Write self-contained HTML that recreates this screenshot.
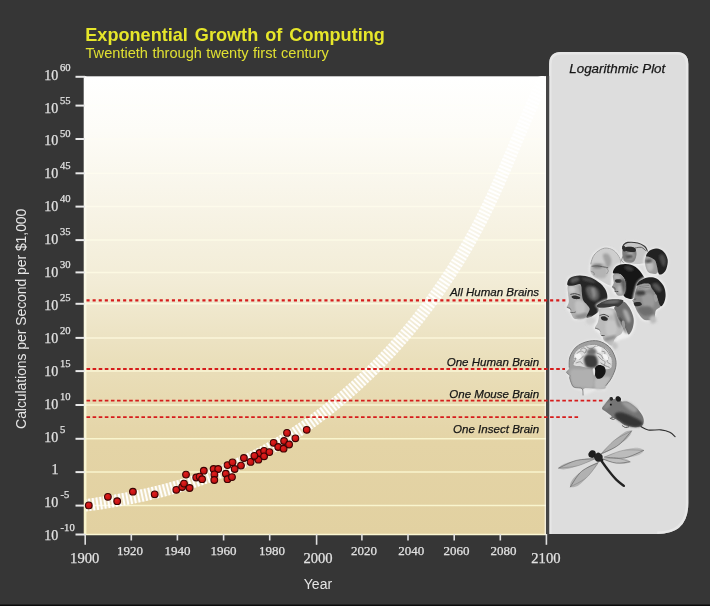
<!DOCTYPE html>
<html><head><meta charset="utf-8"><title>Exponential Growth of Computing</title>
<style>
html,body{margin:0;padding:0;background:#363636;}
body{width:710px;height:606px;overflow:hidden;position:relative;font-family:"Liberation Sans",sans-serif;}
svg{position:absolute;left:0;top:0;display:block;opacity:0.9999;}
text{font-family:"Liberation Serif",serif;font-size:14px;fill:#e2e2e2;stroke:#e2e2e2;stroke-width:0.25px;}
text.sup{font-size:10.6px;}
text.xb{font-size:14.6px;}
text.xs{font-size:13px;}
text.sans{font-family:"Liberation Sans",sans-serif;stroke:none;}
</style></head><body>
<svg width="710" height="606" viewBox="0 0 710 606">
<defs>
<linearGradient id="pg" x1="0" y1="0" x2="0" y2="1">
<stop offset="0" stop-color="#ffffff"/>
<stop offset="0.12" stop-color="#fdfcf7"/>
<stop offset="0.45" stop-color="#f2ecd6"/>
<stop offset="0.62" stop-color="#eadfbb"/>
<stop offset="0.8" stop-color="#e4d4a6"/>
<stop offset="1" stop-color="#e2d1a1"/>
</linearGradient>
<filter id="b1" x="-20%" y="-20%" width="140%" height="140%"><feGaussianBlur stdDeviation="1"/></filter>
<filter id="b2" x="-20%" y="-20%" width="140%" height="140%"><feGaussianBlur stdDeviation="2"/></filter>
<filter id="b03" x="-5%" y="-5%" width="110%" height="110%"><feGaussianBlur stdDeviation="0.35"/></filter>
<filter id="b05" x="-20%" y="-20%" width="140%" height="140%"><feGaussianBlur stdDeviation="0.5"/></filter>
<linearGradient id="ax" x1="0" y1="0" x2="0" y2="1"><stop offset="0" stop-color="#ffffff"/><stop offset="0.5" stop-color="#fbf9e4"/><stop offset="1" stop-color="#f9f5cc"/></linearGradient>
<radialGradient id="dg" cx="0.4" cy="0.35" r="0.7"><stop offset="0" stop-color="#e02020"/><stop offset="1" stop-color="#b80c0c"/></radialGradient>
<clipPath id="pc"><rect x="85" y="76" width="461.5" height="458.5"/></clipPath>
</defs>
<rect x="0" y="0" width="710" height="606" fill="#363636"/>
<rect x="0" y="604.5" width="710" height="1.5" fill="#0c0c0c"/>
<!-- panel -->
<path id="panel" d="M549.2,534 L549.2,64 Q549.2,52 561.2,52 L676.3,52 Q688.3,52 688.3,64 L688.3,503 Q688.3,534 657.3,534 Z" fill="#dddddd"/>
<path d="M550.4,534 L550.4,64 Q550.4,53.2 561.2,53.2 L676.3,53.2 Q687.1,53.2 687.1,64 L687.1,503 Q687.1,532.8 657.3,532.8" fill="none" stroke="#e7e7e7" stroke-width="2.4"/>
<!-- plot -->
<rect x="83.7" y="76.3" width="462.3" height="458.2" fill="url(#pg)"/>
<g stroke-width="1.5" stroke-opacity="0.92" id="grid">
<line x1="85" x2="546" y1="105.6" y2="105.6" stroke="#fefef9"/>
<line x1="85" x2="546" y1="139" y2="139" stroke="#fefdf4"/>
<line x1="85" x2="546" y1="173.3" y2="173.3" stroke="#fefcef"/>
<line x1="85" x2="546" y1="206.6" y2="206.6" stroke="#fdfbeb"/>
<line x1="85" x2="546" y1="240.1" y2="240.1" stroke="#fdfbe7"/>
<line x1="85" x2="546" y1="272.4" y2="272.4" stroke="#fdfae3"/>
<line x1="85" x2="546" y1="303.8" y2="303.8" stroke="#fcfadf"/>
<line x1="85" x2="546" y1="337.9" y2="337.9" stroke="#fcf9dc"/>
<line x1="85" x2="546" y1="371.1" y2="371.1" stroke="#fcf8d8"/>
<line x1="85" x2="546" y1="405" y2="405" stroke="#fbf8d5"/>
<line x1="85" x2="546" y1="438.8" y2="438.8" stroke="#fbf7d1"/>
<line x1="85" x2="546" y1="472.1" y2="472.1" stroke="#fbf7d1"/>
<line x1="85" x2="546" y1="505.6" y2="505.6" stroke="#fbf7d1"/>
</g>
<!-- curve band -->
<g clip-path="url(#pc)" fill="none">
<path d="M85.0,505.4 L91.0,504.6 L97.0,503.7 L103.0,502.8 L109.0,501.8 L115.0,500.8 L121.0,499.7 L127.0,498.6 L133.0,497.4 L139.0,496.2 L145.0,494.9 L151.0,493.5 L157.0,492.1 L163.0,490.6 L169.0,489.0 L175.0,487.3 L181.0,485.6 L187.0,483.8 L193.0,481.8 L199.0,479.8 L205.0,477.7 L211.0,475.5 L217.0,473.3 L223.0,470.9 L229.0,468.4 L235.0,465.7 L241.0,463.0 L247.0,460.2 L253.0,457.2 L259.0,454.2 L265.0,451.0 L271.0,447.7 L277.0,444.2 L283.0,440.7 L289.0,437.0 L295.0,433.1 L301.0,429.1 L307.0,425.0 L313.0,420.7 L319.0,416.3 L325.0,411.8 L331.0,407.0 L337.0,402.2 L343.0,397.1 L349.0,391.9 L355.0,386.6 L361.0,381.0 L367.0,375.3 L373.0,369.5 L379.0,363.4 L385.0,357.1 L391.0,350.7 L397.0,344.0 L403.0,337.1 L409.0,330.0 L415.0,322.6 L421.0,314.9 L427.0,307.0 L433.0,298.8 L439.0,290.3 L445.0,281.5 L451.0,272.4 L457.0,262.9 L463.0,253.0 L469.0,242.6 L475.0,231.7 L481.0,220.3 L487.0,208.2 L493.0,195.5 L499.0,182.2 L505.0,168.4 L511.0,154.2 L517.0,139.9 L523.0,125.7 L529.0,111.7 L535.0,98.1 L541.0,85.2 L547.0,73.1 L548.0,71.1" stroke="#ffffff" stroke-opacity="0.25" stroke-width="12.5"/>
<path d="M85.0,505.4 L91.0,504.6 L97.0,503.7 L103.0,502.8 L109.0,501.8 L115.0,500.8 L121.0,499.7 L127.0,498.6 L133.0,497.4 L139.0,496.2 L145.0,494.9 L151.0,493.5 L157.0,492.1 L163.0,490.6 L169.0,489.0 L175.0,487.3 L181.0,485.6 L187.0,483.8 L193.0,481.8 L199.0,479.8 L205.0,477.7 L211.0,475.5 L217.0,473.3 L223.0,470.9 L229.0,468.4 L235.0,465.7 L241.0,463.0 L247.0,460.2 L253.0,457.2 L259.0,454.2 L265.0,451.0 L271.0,447.7 L277.0,444.2 L283.0,440.7 L289.0,437.0 L295.0,433.1 L301.0,429.1 L307.0,425.0 L313.0,420.7 L319.0,416.3 L325.0,411.8 L331.0,407.0 L337.0,402.2 L343.0,397.1 L349.0,391.9 L355.0,386.6 L361.0,381.0 L367.0,375.3 L373.0,369.5 L379.0,363.4 L385.0,357.1 L391.0,350.7 L397.0,344.0 L403.0,337.1 L409.0,330.0 L415.0,322.6 L421.0,314.9 L427.0,307.0 L433.0,298.8 L439.0,290.3 L445.0,281.5 L451.0,272.4 L457.0,262.9 L463.0,253.0 L469.0,242.6 L475.0,231.7 L481.0,220.3 L487.0,208.2 L493.0,195.5 L499.0,182.2 L505.0,168.4 L511.0,154.2 L517.0,139.9 L523.0,125.7 L529.0,111.7 L535.0,98.1 L541.0,85.2 L547.0,73.1 L548.0,71.1" stroke="#ffffff" stroke-width="12.5" stroke-dasharray="2 1.8" stroke-opacity="0.95"/>
</g>
<!-- axes -->
<rect x="84.1" y="76.3" width="2.3" height="458.7" fill="url(#ax)"/>
<line x1="84" x2="546.5" y1="534.4" y2="534.4" stroke="#fbf8d3" stroke-width="1.5"/>
<line x1="545.3" x2="545.3" y1="76" y2="534.5" stroke="#ffffff" stroke-opacity="0.6" stroke-width="1.4"/>
<line x1="547.6" x2="547.6" y1="76" y2="534.5" stroke="#454545" stroke-width="3.2"/>
<g stroke="#e8e8e8" stroke-width="2" id="yticks">
<line x1="75.5" x2="85" y1="76.8" y2="76.8"/>
<line x1="75.5" x2="85" y1="105.6" y2="105.6"/>
<line x1="75.5" x2="85" y1="139" y2="139"/>
<line x1="75.5" x2="85" y1="173.3" y2="173.3"/>
<line x1="75.5" x2="85" y1="206.6" y2="206.6"/>
<line x1="75.5" x2="85" y1="240.1" y2="240.1"/>
<line x1="75.5" x2="85" y1="272.4" y2="272.4"/>
<line x1="75.5" x2="85" y1="303.8" y2="303.8"/>
<line x1="75.5" x2="85" y1="337.9" y2="337.9"/>
<line x1="75.5" x2="85" y1="371.1" y2="371.1"/>
<line x1="75.5" x2="85" y1="405" y2="405"/>
<line x1="75.5" x2="85" y1="438.8" y2="438.8"/>
<line x1="75.5" x2="85" y1="472.1" y2="472.1"/>
<line x1="75.5" x2="85" y1="505.6" y2="505.6"/>
<line x1="75.5" x2="85" y1="534.5" y2="534.5"/>
</g>
<g stroke="#e0e0e0" stroke-width="1.6" id="xticks">
<line x1="85.2" x2="85.2" y1="534" y2="544.8"/>
<line x1="131.3" x2="131.3" y1="534" y2="540.5"/>
<line x1="177.4" x2="177.4" y1="534" y2="540.5"/>
<line x1="223.6" x2="223.6" y1="534" y2="540.5"/>
<line x1="269.7" x2="269.7" y1="534" y2="540.5"/>
<line x1="316.6" x2="316.6" y1="534" y2="544.8"/>
<line x1="361.9" x2="361.9" y1="534" y2="540.5"/>
<line x1="408.0" x2="408.0" y1="534" y2="540.5"/>
<line x1="454.2" x2="454.2" y1="534" y2="540.5"/>
<line x1="500.3" x2="500.3" y1="534" y2="540.5"/>
<line x1="546.4" x2="546.4" y1="534" y2="544.8"/>
</g>
<!-- red dashed -->
<g stroke="#d61c1c" fill="none">
<line x1="86.5" x2="565.5" y1="300.4" y2="300.4" stroke-width="2.1" stroke-dasharray="3.1 3"/>
<line x1="86.5" x2="565" y1="369" y2="369" stroke-width="1.8" stroke-dasharray="3.6 2.5"/>
<line x1="86.5" x2="603" y1="400.7" y2="400.7" stroke-width="1.8" stroke-dasharray="3.6 2.5"/>
<line x1="86.5" x2="580" y1="417.2" y2="417.2" stroke-width="1.7" stroke-dasharray="3.6 2.5"/>
</g>
<!-- dots -->
<g fill="url(#dg)" stroke="#3c0404" stroke-width="1.1" id="dots">
<circle cx="88.8" cy="505.4" r="3.35"/>
<circle cx="107.9" cy="496.8" r="3.35"/>
<circle cx="117.2" cy="501.2" r="3.35"/>
<circle cx="132.9" cy="491.7" r="3.35"/>
<circle cx="154.7" cy="494.3" r="3.35"/>
<circle cx="176.3" cy="489.8" r="3.35"/>
<circle cx="182.2" cy="487" r="3.35"/>
<circle cx="184" cy="483.6" r="3.35"/>
<circle cx="189.6" cy="488" r="3.35"/>
<circle cx="186" cy="474.6" r="3.35"/>
<circle cx="196.2" cy="477.5" r="3.35"/>
<circle cx="199.6" cy="476.6" r="3.35"/>
<circle cx="202.1" cy="479.2" r="3.35"/>
<circle cx="203.8" cy="470.7" r="3.35"/>
<circle cx="213.6" cy="469" r="3.35"/>
<circle cx="218.2" cy="469" r="3.35"/>
<circle cx="214.4" cy="474.4" r="3.35"/>
<circle cx="214.3" cy="480" r="3.35"/>
<circle cx="225.8" cy="473.7" r="3.35"/>
<circle cx="227.5" cy="479.2" r="3.35"/>
<circle cx="232" cy="477.1" r="3.35"/>
<circle cx="227.5" cy="465.1" r="3.35"/>
<circle cx="232.5" cy="462.3" r="3.35"/>
<circle cx="234.7" cy="469" r="3.35"/>
<circle cx="241" cy="465.6" r="3.35"/>
<circle cx="243.9" cy="458" r="3.35"/>
<circle cx="250.6" cy="461.9" r="3.35"/>
<circle cx="255.3" cy="456.8" r="3.35"/>
<circle cx="258.4" cy="459.7" r="3.35"/>
<circle cx="259.6" cy="453" r="3.35"/>
<circle cx="264.1" cy="450.9" r="3.35"/>
<circle cx="264.1" cy="456.3" r="3.35"/>
<circle cx="269.4" cy="452.1" r="3.35"/>
<circle cx="273.6" cy="442.8" r="3.35"/>
<circle cx="278.2" cy="447" r="3.35"/>
<circle cx="283.6" cy="448.7" r="3.35"/>
<circle cx="284.1" cy="441" r="3.35"/>
<circle cx="287" cy="432.9" r="3.35"/>
<circle cx="289.1" cy="444.5" r="3.35"/>
<circle cx="295.4" cy="438.3" r="3.35"/>
<circle cx="306.7" cy="429.8" r="3.35"/>
<circle cx="254.4" cy="455.8" r="3.35"/>
</g>
<!-- labels -->
<g id="ylabels">
<text x="44.3" y="79.6">10</text><text class="sup" x="60" y="70.7">60</text>
<text x="44.3" y="112.5">10</text><text class="sup" x="60" y="103.6">55</text>
<text x="44.3" y="145.4">10</text><text class="sup" x="60" y="136.5">50</text>
<text x="44.3" y="178.3">10</text><text class="sup" x="60" y="169.4">45</text>
<text x="44.3" y="211.2">10</text><text class="sup" x="60" y="202.3">40</text>
<text x="44.3" y="244.1">10</text><text class="sup" x="60" y="235.2">35</text>
<text x="44.3" y="277.0">10</text><text class="sup" x="60" y="268.1">30</text>
<text x="44.3" y="309.9">10</text><text class="sup" x="60" y="301.0">25</text>
<text x="44.3" y="342.8">10</text><text class="sup" x="60" y="333.9">20</text>
<text x="44.3" y="375.7">10</text><text class="sup" x="60" y="366.8">15</text>
<text x="44.3" y="408.6">10</text><text class="sup" x="60" y="399.7">10</text>
<text x="44.3" y="441.5">10</text><text class="sup" x="60" y="432.6">5</text>
<text x="55" y="474.4" text-anchor="middle">1</text>
<text x="44.3" y="507.3">10</text><text class="sup" x="60.6" y="498.4">-5</text>
<text x="44.3" y="540.2">10</text><text class="sup" x="60.6" y="531.3">-10</text>
</g>
<g id="xlabels">
<text class="xb" x="84.7" y="563" text-anchor="middle">1900</text>
<text class="xs" x="130" y="555.4" text-anchor="middle">1920</text>
<text class="xs" x="177.5" y="555.4" text-anchor="middle">1940</text>
<text class="xs" x="223.6" y="555.4" text-anchor="middle">1960</text>
<text class="xs" x="272.0" y="555.4" text-anchor="middle">1980</text>
<text class="xb" x="318" y="563.2" text-anchor="middle">2000</text>
<text class="xs" x="364.1" y="555.4" text-anchor="middle">2020</text>
<text class="xs" x="411.2" y="555.4" text-anchor="middle">2040</text>
<text class="xs" x="456.5" y="555.4" text-anchor="middle">2060</text>
<text class="xs" x="503.6" y="555.4" text-anchor="middle">2080</text>
<text class="xb" x="545.9" y="563" text-anchor="middle">2100</text>
</g>
<text class="sans" x="85.3" y="40.6" style="word-spacing:2px;font-size:18.1px;font-weight:bold;fill:#e6e62a">Exponential Growth of Computing</text>
<text class="sans" x="85.5" y="57.7" style="font-size:14.6px;word-spacing:0.4px;fill:#e0e032">Twentieth through twenty first century</text>
<text class="sans" x="303.8" y="588.8" style="font-size:14px;fill:#e6e6e6">Year</text>
<text class="sans" transform="translate(25.6,318.8) rotate(-90)" text-anchor="middle" style="font-size:14px;letter-spacing:-0.07px;fill:#e6e6e6">Calculations per Second per $1,000</text>
<text class="sans" x="617.3" y="72.8" text-anchor="middle" style="font-size:13.4px;font-style:italic;fill:#161616;stroke:#161616;stroke-width:0.25px">Logarithmic Plot</text>
<g style="font-size:11px;font-style:italic;fill:#1a1a1a" text-anchor="end">
<text class="sans" style="fill:#151515;font-size:11.55px;stroke:#151515;stroke-width:0.25px" x="539.1" y="295.6">All Human Brains</text>
<text class="sans" style="fill:#151515;font-size:11.55px;stroke:#151515;stroke-width:0.25px" x="539.1" y="365.5">One Human Brain</text>
<text class="sans" style="fill:#151515;font-size:11.55px;stroke:#151515;stroke-width:0.25px" x="539.1" y="397.5">One Mouse Brain</text>
<text class="sans" style="fill:#151515;font-size:11.55px;stroke:#151515;stroke-width:0.25px" x="539.1" y="432.5">One Insect Brain</text>
</g>
<g id="heads" filter="url(#b03)">
<path d="M589.8,264.7C590.1,262.4 590.5,259.9 591.5,257.8C592.5,255.7 593.5,253.6 595.7,251.9C597.9,250.2 601.7,247.7 604.8,247.4C607.9,247.1 611.6,248.1 614.2,249.9C616.9,251.7 619.4,255.8 620.7,258.3C622.0,260.9 622.2,263.0 621.9,265.2C621.6,267.4 620.2,269.3 618.7,271.7C617.2,274.1 613.9,277.1 612.8,279.6C611.6,282.1 613.1,285.7 611.8,286.5C610.5,287.3 607.4,285.7 604.8,284.5C602.1,283.3 598.0,280.5 595.9,279.1C593.8,277.7 593.1,277.3 592.0,276.1C590.9,274.9 589.9,273.6 589.5,271.7C589.1,269.8 589.5,267.0 589.8,264.7Z" fill="#f3f3f3" filter="url(#b1)"/>
<path d="M590.8,264.5C591.1,262.3 591.6,260.2 592.5,258.3C593.4,256.4 594.4,254.5 596.4,252.9C598.4,251.3 601.9,248.8 604.8,248.5C607.6,248.2 611.0,249.2 613.5,250.9C616.0,252.6 618.5,256.5 619.7,258.8C620.9,261.1 621.0,262.8 620.7,264.9C620.4,267.0 619.2,268.9 617.7,271.2C616.2,273.5 613.1,276.4 612.0,278.8C610.9,281.2 612.2,284.6 611.0,285.3C609.8,286.1 607.4,284.5 605.0,283.3C602.6,282.1 598.4,279.4 596.4,278.1C594.4,276.8 593.8,276.5 592.8,275.4C591.8,274.3 590.9,273.3 590.6,271.5C590.3,269.7 590.5,266.7 590.8,264.5Z" fill="#cecece" filter="url(#b05)"/>
<path d="M592.5,263.9C593.6,262.4 595.9,262.7 597.9,262.8C599.9,262.9 603.2,263.4 604.8,264.7C606.4,266.0 607.2,268.5 607.3,270.7C607.4,272.9 607.0,276.4 605.3,277.6C603.6,278.8 598.9,278.5 596.9,278.1C594.9,277.7 594.0,276.2 593.0,275.1C592.0,274.0 591.1,273.4 591.0,271.5C590.9,269.6 591.4,265.3 592.5,263.9Z" fill="#b4b4b4" filter="url(#b1)"/>
<path d="M602.9,254.8C603.4,253.5 606.4,253.0 607.8,253.8C609.2,254.6 610.9,257.8 611.3,259.8C611.7,261.8 611.0,264.4 610.3,265.7C609.5,267.0 607.7,268.3 606.8,267.7C605.9,267.1 605.4,263.9 604.8,261.8C604.1,259.7 602.4,256.1 602.9,254.8Z" fill="#a2a2a2" filter="url(#b1)"/>
<path d="M593.7,264.9C594.8,264.3 599.6,264.0 600.9,264.5C602.2,265.0 602.5,267.1 601.4,267.7C600.3,268.3 595.7,268.4 594.4,267.9C593.1,267.4 592.6,265.5 593.7,264.9Z" fill="#7e7e7e" filter="url(#b1)"/>
<path d="M592.0,266.3C592.8,266.2 595.2,265.8 596.9,265.9C598.6,266.0 600.6,266.4 602.4,266.7C604.2,267.0 606.9,267.5 607.8,267.7" fill="none" stroke="#4e4e4e" stroke-width="0.8" stroke-linecap="round" filter="url(#b05)"/>
<path d="M590.8,263.9C591.1,262.9 591.6,259.9 592.5,258.0C593.4,256.1 594.4,254.2 596.4,252.5C598.4,250.8 601.9,248.4 604.8,248.1C607.7,247.8 611.2,248.8 613.7,250.5C616.2,252.2 618.7,256.0 619.9,258.4C621.1,260.8 620.7,263.6 620.9,264.7" fill="none" stroke="#8e8e8e" stroke-width="0.8" stroke-linecap="round" filter="url(#b05)"/>
<path d="M591.2,271.5C591.7,271.7 593.4,272.1 593.9,272.7C594.4,273.2 594.1,274.4 594.1,274.8" fill="none" stroke="#777" stroke-width="0.7" stroke-linecap="round" filter="url(#b05)"/>
<path d="M606.3,267.7C606.6,268.2 608.2,269.7 608.3,270.7C608.4,271.7 607.0,273.1 606.8,273.6" fill="none" stroke="#888" stroke-width="0.8" stroke-linecap="round" filter="url(#b05)"/>
<path d="M621.2,248.9C621.5,247.0 621.6,245.6 622.7,244.4C623.8,243.2 625.1,241.9 627.6,241.5C630.1,241.1 635.0,241.5 638.0,242.2C641.0,242.9 643.6,244.4 645.4,245.9C647.2,247.4 648.1,249.4 648.6,251.4C649.1,253.4 648.8,255.8 648.4,257.8C648.0,259.9 648.5,262.5 646.4,263.7C644.2,264.9 638.6,265.1 635.5,265.2C632.4,265.3 629.7,265.1 627.6,264.5C625.5,263.9 623.8,263.2 622.7,261.8C621.6,260.4 621.5,257.9 621.2,255.8C621.0,253.7 621.0,250.8 621.2,248.9Z" fill="#efefef" filter="url(#b1)"/>
<path d="M622.2,249.1C622.4,247.3 622.5,246.2 623.4,245.1C624.3,244.0 625.4,242.9 627.8,242.6C630.2,242.3 634.9,242.5 637.7,243.2C640.5,243.9 643.0,245.3 644.6,246.7C646.2,248.1 647.0,249.7 647.4,251.5C647.8,253.3 647.5,255.9 647.2,257.8C646.9,259.7 647.4,261.8 645.4,262.8C643.4,263.9 638.4,264.0 635.5,264.1C632.6,264.2 629.8,264.0 627.8,263.5C625.8,263.0 624.3,262.3 623.4,261.0C622.5,259.7 622.4,257.8 622.2,255.8C622.0,253.8 622.0,250.9 622.2,249.1Z" fill="#c6c6c6" filter="url(#b05)"/>
<path d="M622.9,248.9C623.7,247.4 625.7,247.1 627.6,246.9C629.5,246.7 633.0,246.8 634.5,247.9C636.0,249.1 636.5,251.7 636.5,253.8C636.5,256.0 635.6,259.2 634.5,260.8C633.4,262.4 631.2,263.1 629.6,263.2C628.0,263.3 625.8,262.5 624.6,261.3C623.5,260.1 623.0,257.9 622.7,255.8C622.4,253.7 622.1,250.4 622.9,248.9Z" fill="#7e7e7e" filter="url(#b05)"/>
<path d="M627.6,252.9C628.4,252.0 631.5,251.8 632.6,252.4C633.8,253.1 634.7,255.7 634.5,256.8C634.3,257.9 632.7,259.1 631.6,259.3C630.5,259.5 628.8,258.9 628.1,257.8C627.4,256.7 626.9,253.8 627.6,252.9Z" fill="#a8a8a8" filter="url(#b1)"/>
<path d="M624.8,247.4C625.5,246.7 627.9,246.6 629.6,246.7C631.3,246.8 634.0,247.1 635.0,247.9C636.0,248.7 636.2,250.7 635.5,251.4C634.8,252.1 632.3,252.0 630.6,251.9C628.9,251.8 626.4,251.8 625.4,251.1C624.4,250.3 624.1,248.1 624.8,247.4Z" fill="#2c2c2c" filter="url(#b05)"/>
<path d="M622.2,246.7C622.4,245.8 624.0,245.4 624.6,245.9C625.2,246.4 626.3,249.0 626.1,249.9C625.9,250.8 624.2,251.9 623.6,251.4C623.0,250.9 622.0,247.6 622.2,246.7Z" fill="#2e2e2e" filter="url(#b05)"/>
<path d="M626.1,255.8C626.9,255.4 630.5,255.1 631.6,255.3C632.7,255.6 633.4,256.9 632.6,257.3C631.9,257.7 628.2,258.1 627.1,257.8C626.0,257.6 625.4,256.2 626.1,255.8Z" fill="#3a3a3a" filter="url(#b1)"/>
<path d="M622.5,248.7C622.7,248.1 622.7,245.9 623.6,244.9C624.5,243.9 625.4,242.7 627.8,242.4C630.1,242.1 634.9,242.3 637.7,243.0C640.5,243.7 643.1,245.1 644.8,246.5C646.4,247.9 647.1,250.5 647.6,251.3" fill="none" stroke="#333" stroke-width="1.1" stroke-linecap="round" filter="url(#b05)"/>
<path d="M635.5,247.9C636.5,247.8 639.8,246.9 641.5,247.4C643.2,247.9 645.2,250.3 645.9,250.9" fill="none" stroke="#555" stroke-width="0.9" stroke-linecap="round" filter="url(#b05)"/>
<path d="M622.7,256.8C622.5,257.5 621.5,259.8 621.7,260.8C621.9,261.8 623.7,262.5 624.1,262.8" fill="none" stroke="#666" stroke-width="0.8" stroke-linecap="round" filter="url(#b05)"/>
<path d="M643.9,258.8C644.5,256.2 645.8,252.9 647.8,251.1C649.8,249.3 653.3,247.8 656.0,247.8C658.7,247.8 662.2,249.2 664.2,251.1C666.2,253.0 667.8,256.5 668.3,259.4C668.8,262.3 667.9,265.9 667.1,268.3C666.3,270.7 665.6,272.7 663.7,273.8C661.9,274.9 658.6,275.1 656.0,275.1C653.4,275.1 650.0,275.2 648.1,273.8C646.2,272.4 645.1,269.4 644.4,266.9C643.7,264.4 643.3,261.4 643.9,258.8Z" fill="#efefef" filter="url(#b1)"/>
<path d="M645.2,258.8C645.6,256.6 646.7,254.6 648.1,253.5C649.5,252.4 651.9,251.5 653.4,252.2C654.9,252.8 656.4,255.0 657.3,257.4C658.2,259.8 659.0,264.0 658.9,266.7C658.8,269.4 658.3,272.5 656.7,273.5C655.1,274.5 650.9,273.9 649.1,272.8C647.3,271.7 646.4,269.0 645.7,266.7C645.1,264.4 644.8,261.0 645.2,258.8Z" fill="#9c9c9c" filter="url(#b05)"/>
<path d="M646.5,262.7C647.1,261.2 649.8,260.6 651.0,261.1C652.2,261.7 653.5,264.4 653.6,266.0C653.7,267.6 652.5,270.2 651.5,270.9C650.5,271.6 648.1,271.4 647.3,270.0C646.5,268.6 645.9,264.2 646.5,262.7Z" fill="#bebebe" filter="url(#b1)"/>
<path d="M645.7,260.3C646.5,259.8 650.0,259.3 651.0,259.6C652.0,259.9 652.2,261.4 651.5,261.9C650.8,262.4 647.5,263.0 646.5,262.7C645.5,262.4 645.0,260.8 645.7,260.3Z" fill="#444" filter="url(#b1)"/>
<path d="M646.1,256.1C646.0,255.0 647.6,252.1 649.4,250.8C651.2,249.6 654.3,248.4 656.7,248.6C659.1,248.8 662.1,250.1 663.9,251.9C665.7,253.7 667.1,256.7 667.6,259.4C668.1,262.1 667.3,265.7 666.6,268.0C665.9,270.3 664.6,272.3 663.3,273.3C662.0,274.3 659.9,275.2 658.9,274.1C657.9,273.0 657.8,269.0 657.1,266.7C656.5,264.4 656.2,261.9 655.0,260.3C653.8,258.7 651.6,257.9 650.1,257.2C648.6,256.5 646.2,257.2 646.1,256.1Z" fill="#202020" filter="url(#b05)"/>
<path d="M659.3,256.1C659.6,254.7 662.2,254.0 663.3,254.8C664.4,255.6 665.8,258.7 665.9,260.7C666.0,262.7 665.0,266.2 664.2,266.7C663.4,267.1 662.1,265.2 661.3,263.4C660.5,261.6 659.0,257.5 659.3,256.1Z" fill="#4c4c4c" filter="url(#b1)"/>
<path d="M611.2,286.7C611.0,283.7 611.2,277.5 612.0,273.9C612.8,270.3 613.6,266.9 615.9,265.0C618.2,263.1 622.4,262.7 625.8,262.8C629.2,262.9 633.5,263.9 636.5,265.7C639.5,267.5 642.1,271.5 643.7,273.9C645.3,276.2 646.3,277.7 646.1,279.8C645.9,281.9 644.2,284.4 642.7,286.7C641.2,289.0 638.7,291.5 637.2,293.7C635.7,295.9 635.6,298.7 633.8,299.6C632.0,300.5 628.3,299.6 626.3,299.1C624.3,298.6 623.6,297.2 621.9,296.6C620.2,296.0 617.4,296.4 615.9,295.6C614.4,294.8 613.8,293.2 613.0,291.7C612.2,290.2 611.4,289.7 611.2,286.7Z" fill="#efefef" filter="url(#b1)"/>
<path d="M613.0,273.1C612.5,271.8 614.6,267.6 616.7,266.1C618.8,264.6 622.6,263.9 625.8,264.0C629.0,264.1 632.9,265.1 635.7,266.9C638.5,268.7 641.2,272.7 642.7,274.9C644.2,277.1 645.1,278.2 644.9,280.0C644.7,281.8 643.1,283.8 641.7,285.9C640.3,288.0 637.9,290.8 636.5,292.9C635.1,295.0 634.9,297.8 633.3,298.6C631.7,299.5 628.5,298.7 626.8,298.0C625.1,297.3 623.4,295.9 623.1,294.2C622.8,292.5 624.6,290.1 624.9,287.7C625.2,285.3 625.5,282.1 624.7,279.8C623.9,277.5 621.9,275.2 619.9,274.1C617.9,273.0 613.5,274.4 613.0,273.1Z" fill="#161616" filter="url(#b05)"/>
<path d="M613.2,274.9C614.2,273.4 618.0,273.3 619.9,274.1C621.8,274.9 623.8,277.5 624.7,279.8C625.7,282.1 625.7,285.2 625.6,287.7C625.5,290.2 625.2,293.4 623.9,294.7C622.6,296.0 619.4,295.9 617.9,295.4C616.4,294.9 615.7,292.4 615.1,291.5C614.5,290.6 615.0,290.5 614.5,289.7C614.0,288.9 612.3,288.0 612.2,286.9C612.1,285.8 613.6,284.8 613.8,282.8C614.0,280.8 612.2,276.3 613.2,274.9Z" fill="#9a9a9a" filter="url(#b05)"/>
<path d="M617.9,286.2C618.8,285.4 622.3,284.8 623.4,285.7C624.5,286.6 625.0,290.3 624.4,291.7C623.8,293.1 621.0,294.4 619.9,294.2C618.8,294.0 618.0,292.0 617.7,290.7C617.4,289.4 617.0,287.0 617.9,286.2Z" fill="#bababa" filter="url(#b1)"/>
<path d="M614.0,275.8C614.7,275.1 618.2,274.8 619.4,275.3C620.5,275.8 621.6,278.1 620.9,278.8C620.2,279.5 616.1,279.8 615.0,279.3C613.9,278.8 613.3,276.5 614.0,275.8Z" fill="#b2b2b2" filter="url(#b1)"/>
<path d="M615.4,279.8C616.2,279.3 619.9,279.2 620.9,279.6C621.9,280.0 622.2,281.8 621.4,282.3C620.6,282.8 617.1,283.0 616.1,282.6C615.1,282.2 614.6,280.3 615.4,279.8Z" fill="#333" filter="url(#b05)"/>
<path d="M620.9,279.8C621.3,278.2 624.1,279.0 624.9,280.3C625.7,281.6 625.8,285.4 625.6,287.7C625.4,290.0 624.4,293.9 623.9,294.2C623.4,294.5 622.9,292.1 622.4,289.7C621.9,287.3 620.5,281.4 620.9,279.8Z" fill="#5e5e5e" filter="url(#b1)"/>
<path d="M612.4,286.9C612.8,287.1 614.4,287.3 614.8,287.9C615.2,288.4 615.0,289.8 615.0,290.2" fill="none" stroke="#555" stroke-width="0.8" stroke-linecap="round" filter="url(#b05)"/>
<path d="M615.0,291.3C615.5,291.3 617.4,291.5 617.9,291.5" fill="none" stroke="#444" stroke-width="0.9" stroke-linecap="round" filter="url(#b05)"/>
<path d="M623.9,266.9C624.1,266.1 628.1,265.4 629.8,265.9C631.4,266.4 634.0,269.1 633.8,269.9C633.6,270.7 630.4,271.4 628.8,270.9C627.1,270.4 623.7,267.7 623.9,266.9Z" fill="#3a3a3a" filter="url(#b1)"/>
<path d="M632.3,302.6C632.5,299.8 633.8,293.2 634.8,289.7C635.8,286.1 636.2,283.6 638.2,281.3C640.2,279.0 644.0,276.7 647.1,276.0C650.2,275.3 654.1,275.5 657.0,277.0C659.9,278.5 663.1,282.2 664.7,285.2C666.4,288.1 666.8,291.6 666.9,294.7C667.0,297.8 666.1,301.4 665.2,303.6C664.3,305.8 663.0,306.7 661.5,308.0C660.0,309.3 657.6,309.4 656.5,311.5C655.4,313.6 656.9,318.9 654.6,320.4C652.3,321.9 645.7,321.5 642.7,320.4C639.7,319.2 638.3,315.8 636.7,313.5C635.1,311.2 634.0,308.3 633.3,306.5C632.6,304.7 632.0,305.4 632.3,302.6Z" fill="#efefef" filter="url(#b1)"/>
<path d="M633.6,302.1C633.8,299.5 635.0,293.1 635.9,290.2C636.8,287.3 636.9,285.9 639.2,284.8C641.5,283.7 647.0,282.5 649.6,283.8C652.2,285.1 653.3,290.1 654.6,292.7C655.9,295.3 656.5,297.3 657.5,299.6C658.5,301.9 660.8,304.5 660.5,306.3C660.2,308.1 656.9,308.5 655.7,310.7C654.6,312.9 655.6,317.9 653.6,319.4C651.6,320.8 646.3,320.5 643.7,319.4C641.1,318.2 639.4,314.7 637.9,312.5C636.4,310.3 635.5,307.7 634.8,306.0C634.1,304.3 633.4,304.7 633.6,302.1Z" fill="#898989" filter="url(#b05)"/>
<path d="M639.2,285.2C640.7,284.2 646.8,283.7 648.6,284.3C650.4,284.9 651.6,287.7 650.1,288.7C648.6,289.7 641.5,290.8 639.7,290.2C637.9,289.6 637.7,286.2 639.2,285.2Z" fill="#a6a6a6" filter="url(#b1)"/>
<path d="M642.7,294.7C644.3,293.4 649.6,292.5 651.6,293.7C653.6,294.9 654.6,299.1 654.6,301.6C654.6,304.1 653.2,307.5 651.6,308.5C650.0,309.5 646.3,308.6 644.7,307.5C643.1,306.4 642.5,303.7 642.2,301.6C641.9,299.5 641.1,296.0 642.7,294.7Z" fill="#9c9c9c" filter="url(#b1)"/>
<path d="M636.5,291.5C637.6,290.8 642.3,290.4 643.7,290.9C645.1,291.4 645.8,293.8 644.7,294.5C643.6,295.2 638.6,295.4 637.2,294.9C635.8,294.4 635.4,292.2 636.5,291.5Z" fill="#3c3c3c" filter="url(#b1)"/>
<path d="M634.3,302.4C635.2,301.9 638.5,301.7 639.7,302.1C640.9,302.5 642.3,304.3 641.7,305.0C641.1,305.7 637.4,306.3 636.2,306.3C635.0,306.3 634.6,305.6 634.3,305.0C634.0,304.4 633.4,302.9 634.3,302.4Z" fill="#2a2a2a" filter="url(#b05)"/>
<path d="M637.7,308.5C638.7,307.0 647.0,305.7 649.6,306.5C652.2,307.3 654.6,312.0 653.6,313.5C652.6,315.0 646.4,316.2 643.7,315.4C641.1,314.6 636.7,310.0 637.7,308.5Z" fill="#6e6e6e" filter="url(#b1)"/>
<path d="M639.7,286.5C641.2,286.3 647.1,285.7 648.6,285.5" fill="none" stroke="#6a6a6a" stroke-width="0.6" stroke-linecap="round" filter="url(#b05)"/>
<path d="M639.5,288.2C641.1,288.1 647.5,287.4 649.1,287.3" fill="none" stroke="#6a6a6a" stroke-width="0.6" stroke-linecap="round" filter="url(#b05)"/>
<path d="M633.8,302.1C633.7,301.8 632.6,300.6 633.0,300.1C633.4,299.6 635.4,299.3 635.9,299.1" fill="none" stroke="#555" stroke-width="0.8" stroke-linecap="round" filter="url(#b05)"/>
<path d="M636.7,285.7C636.2,285.2 637.9,282.4 639.7,281.0C641.5,279.6 644.8,277.8 647.6,277.4C650.4,277.0 653.9,277.0 656.5,278.4C659.1,279.8 662.0,283.0 663.5,285.7C665.0,288.4 665.5,291.9 665.6,294.7C665.7,297.5 664.9,300.7 664.1,302.6C663.3,304.5 661.8,306.8 660.7,306.3C659.6,305.8 658.7,301.9 657.7,299.6C656.7,297.3 655.8,294.6 654.8,292.7C653.8,290.8 652.5,289.3 651.6,287.9C650.7,286.4 651.1,284.7 649.6,284.0C648.1,283.3 644.9,283.5 642.7,283.8C640.6,284.1 637.2,286.2 636.7,285.7Z" fill="#222222" filter="url(#b05)"/>
<path d="M652.1,284.3C652.6,283.5 655.9,282.9 657.5,283.8C659.1,284.7 661.3,288.4 661.5,289.7C661.7,291.0 659.6,291.9 658.5,291.7C657.4,291.5 655.7,289.9 654.6,288.7C653.5,287.5 651.6,285.1 652.1,284.3Z" fill="#555" filter="url(#b1)"/>
<path d="M653.6,295.6C653.9,294.5 655.9,294.3 656.5,295.1C657.1,295.9 657.8,299.5 657.5,300.6C657.2,301.7 655.6,302.4 655.0,301.6C654.4,300.8 653.4,296.7 653.6,295.6Z" fill="#a0a0a0" filter="url(#b05)"/>
<path d="M649.6,318.4C650.1,317.1 653.5,314.9 654.6,315.4C655.8,315.9 657.0,320.1 656.5,321.4C656.0,322.7 652.8,323.9 651.6,323.4C650.5,322.9 649.1,319.7 649.6,318.4Z" fill="#bdbdbd" filter="url(#b1)"/>
<path d="M566.3,283.6C566.6,281.3 566.6,278.5 568.8,277.0C571.0,275.5 575.8,274.6 579.5,274.5C583.2,274.4 587.5,275.1 591.1,276.5C594.8,277.9 598.7,280.3 601.4,282.7C604.1,285.1 605.9,287.9 607.1,290.6C608.3,293.3 608.7,296.5 608.4,298.8C608.1,301.1 606.9,303.0 605.5,304.6C604.1,306.2 601.1,307.0 600.1,308.3C599.1,309.6 600.8,310.8 599.3,312.4C597.8,314.0 593.4,317.0 591.1,318.2C588.8,319.4 588.2,319.1 585.3,319.4C582.4,319.7 576.2,320.9 573.7,319.9C571.2,318.9 571.3,315.4 570.0,313.3C568.7,311.2 566.4,309.9 565.9,307.5C565.4,305.1 567.0,301.9 567.1,299.2C567.2,296.4 566.8,293.6 566.7,291.0C566.6,288.4 565.9,285.9 566.3,283.6Z" fill="#ececec" filter="url(#b1)"/>
<path d="M568.0,285.6C569.0,284.2 572.0,285.4 574.1,285.2C576.2,285.0 579.2,283.2 580.5,284.4C581.8,285.6 581.4,290.0 581.8,292.6C582.2,295.2 582.1,298.0 583.0,300.1C583.9,302.2 586.0,303.5 587.1,305.0C588.2,306.5 589.7,307.3 589.6,309.3C589.5,311.3 588.0,315.6 586.3,317.2C584.6,318.8 581.5,318.4 579.5,318.6C577.5,318.8 575.6,319.6 574.1,318.6C572.6,317.6 571.4,313.9 570.8,312.4C570.2,310.9 570.9,310.4 570.3,309.5C569.7,308.6 567.2,308.6 567.0,307.3C566.8,306.0 568.6,304.0 568.8,301.7C569.0,299.4 568.2,296.2 568.1,293.5C568.0,290.8 567.0,287.0 568.0,285.6Z" fill="#b0b0b0" filter="url(#b05)"/>
<path d="M568.8,286.9C569.6,286.0 572.6,285.7 573.7,286.4C574.8,287.1 575.8,289.8 575.4,291.0C575.0,292.2 572.4,293.4 571.3,293.5C570.2,293.6 569.3,292.9 568.9,291.8C568.5,290.7 568.0,287.8 568.8,286.9Z" fill="#cbcbcb" filter="url(#b1)"/>
<path d="M575.4,301.7C576.5,300.3 580.4,300.1 582.0,300.9C583.6,301.7 585.0,304.6 585.3,306.7C585.6,308.8 584.8,311.9 583.6,313.3C582.4,314.7 579.3,315.6 577.9,314.9C576.5,314.2 575.8,311.3 575.4,309.1C575.0,306.9 574.3,303.1 575.4,301.7Z" fill="#c2c2c2" filter="url(#b1)"/>
<path d="M578.7,286.0C578.8,284.8 580.1,284.4 580.7,285.6C581.3,286.9 581.7,291.1 582.1,293.5C582.5,295.9 583.3,299.2 583.2,300.1C583.1,301.1 582.2,300.4 581.6,299.2C581.0,297.9 580.4,294.8 579.9,292.6C579.4,290.4 578.6,287.2 578.7,286.0Z" fill="#8a8a8a" filter="url(#b1)"/>
<path d="M575.4,315.7C576.5,314.8 584.0,313.1 586.1,313.3C588.2,313.5 588.9,315.7 587.8,316.6C586.7,317.5 581.6,319.0 579.5,318.9C577.4,318.8 574.3,316.6 575.4,315.7Z" fill="#8c8c8c" filter="url(#b1)"/>
<path d="M571.9,296.1C572.4,295.7 574.1,295.3 575.4,295.5C576.7,295.7 579.2,296.6 579.9,297.2C580.6,297.8 580.2,298.5 579.5,298.8C578.8,299.1 576.6,299.2 575.4,299.1C574.2,299.0 572.8,298.5 572.2,298.0C571.6,297.5 571.4,296.5 571.9,296.1Z" fill="#2e2e2e" filter="url(#b05)"/>
<path d="M570.8,294.4C571.4,294.3 573.1,293.5 574.6,293.6C576.1,293.7 579.0,294.9 579.9,295.1" fill="none" stroke="#3a3a3a" stroke-width="0.9" stroke-linecap="round" filter="url(#b05)"/>
<path d="M567.1,307.3C567.6,307.5 569.4,307.8 570.0,308.3C570.6,308.8 570.7,309.8 570.8,310.1" fill="none" stroke="#666" stroke-width="0.8" stroke-linecap="round" filter="url(#b05)"/>
<path d="M570.6,312.3C571.1,312.4 572.9,312.7 573.7,312.6C574.5,312.6 575.1,312.1 575.4,312.0" fill="none" stroke="#555" stroke-width="0.8" stroke-linecap="round" filter="url(#b05)"/>
<path d="M567.3,283.1C567.6,281.8 568.0,279.2 570.0,277.9C572.0,276.6 576.1,275.6 579.5,275.5C582.9,275.4 587.1,276.1 590.6,277.5C594.1,278.9 597.9,281.4 600.5,283.6C603.1,285.9 605.0,288.5 606.1,291.0C607.2,293.5 607.6,296.5 607.3,298.6C607.0,300.7 605.8,302.4 604.5,303.8C603.2,305.2 600.5,305.8 599.5,307.1C598.5,308.4 600.1,309.8 598.6,311.4C597.1,313.0 592.6,316.0 590.6,317.0C588.6,318.0 586.7,318.5 586.5,317.2C586.3,315.9 589.5,311.3 589.6,309.3C589.7,307.3 588.2,306.5 587.1,305.0C586.0,303.5 583.9,302.2 583.0,300.1C582.1,298.0 582.2,295.2 581.8,292.6C581.4,290.0 581.8,285.6 580.5,284.4C579.2,283.2 576.2,285.2 574.1,285.4C572.0,285.6 569.2,286.0 568.1,285.6C567.0,285.2 567.0,284.4 567.3,283.1Z" fill="#262626" filter="url(#b05)"/>
<path d="M586.1,287.7C586.8,286.4 589.2,285.7 591.1,286.0C593.0,286.3 596.3,287.5 597.7,289.3C599.1,291.1 599.6,294.9 599.3,296.8C599.0,298.7 597.5,300.5 596.0,300.9C594.5,301.3 591.7,300.4 590.2,299.2C588.7,298.0 587.6,295.4 586.9,293.5C586.2,291.6 585.4,288.9 586.1,287.7Z" fill="#5e5e5e" filter="url(#b1)"/>
<path d="M591.1,288.5C591.5,287.6 593.6,287.0 594.4,288.1C595.2,289.2 596.1,293.4 596.0,295.1C595.9,296.8 594.2,298.7 593.5,298.4C592.8,298.1 592.3,295.1 591.9,293.5C591.5,291.9 590.7,289.4 591.1,288.5Z" fill="#8a8a8a" filter="url(#b1)"/>
<path d="M570.8,279.0C571.6,278.1 574.8,277.0 576.2,277.1C577.7,277.2 579.6,278.5 579.5,279.4C579.4,280.3 576.8,281.8 575.4,282.3C574.0,282.9 572.1,283.2 571.3,282.7C570.5,282.1 570.0,279.9 570.8,279.0Z" fill="#5a5a5a" filter="url(#b1)"/>
<path d="M582.0,277.8C583.1,277.5 587.9,277.8 590.2,278.6C592.5,279.4 596.0,282.1 596.0,282.7C596.0,283.2 592.3,282.3 590.2,281.9C588.1,281.5 585.0,281.0 583.6,280.3C582.2,279.6 580.9,278.1 582.0,277.8Z" fill="#4a4a4a" filter="url(#b1)"/>
<path d="M586.9,317.8C587.9,316.9 590.4,316.4 591.9,317.0C593.4,317.6 596.3,320.2 596.0,321.5C595.7,322.8 591.9,324.7 590.2,324.8C588.6,324.9 586.7,323.5 586.1,322.3C585.5,321.1 585.9,318.7 586.9,317.8Z" fill="#d0d0d0" filter="url(#b1)"/>
<path d="M593.7,328.0C593.2,325.5 596.2,323.0 597.0,319.8C597.8,316.6 598.5,311.5 598.3,309.0C598.1,306.5 594.6,306.5 595.8,304.9C597.0,303.3 602.3,300.6 605.7,299.5C609.1,298.4 613.4,298.3 616.4,298.3C619.4,298.3 621.4,298.1 623.8,299.5C626.2,300.9 628.9,303.5 630.8,306.6C632.7,309.7 634.6,314.5 635.2,318.1C635.8,321.7 635.3,325.4 634.4,328.4C633.5,331.4 631.4,334.7 630.0,336.3C628.6,337.9 628.4,337.1 626.3,337.9C624.2,338.7 619.1,339.5 617.2,341.2C615.3,342.9 616.0,346.7 614.8,347.8C613.6,348.9 611.7,348.9 609.8,347.8C607.9,346.7 604.9,343.4 603.2,341.2C601.6,339.0 601.5,336.8 599.9,334.6C598.3,332.4 594.2,330.5 593.7,328.0Z" fill="#efefef" filter="url(#b1)"/>
<path d="M614.8,306.6C616.1,304.8 620.6,301.2 623.0,301.4C625.4,301.5 627.6,304.7 629.4,307.5C631.2,310.3 633.0,314.9 633.6,318.3C634.2,321.7 633.5,325.3 632.7,328.0C631.9,330.7 629.9,334.1 628.8,334.4C627.7,334.7 627.1,331.5 626.1,329.7C625.1,327.9 624.3,325.3 623.0,323.5C621.7,321.7 619.8,320.8 618.5,318.9C617.2,317.0 615.8,314.4 615.2,312.3C614.6,310.2 613.5,308.4 614.8,306.6Z" fill="#6e6e6e" filter="url(#b05)"/>
<path d="M623.0,309.9C623.3,308.7 625.9,309.2 627.1,310.7C628.3,312.2 630.1,316.8 630.4,318.9C630.7,321.0 629.6,323.2 628.8,323.1C628.0,323.0 626.5,320.3 625.5,318.1C624.5,315.9 622.7,311.1 623.0,309.9Z" fill="#a8a8a8" filter="url(#b1)"/>
<path d="M618.1,317.3C618.2,316.4 620.6,317.7 621.8,319.8C623.0,321.9 624.5,327.4 625.5,329.7C626.5,332.0 627.6,333.5 627.5,333.8C627.4,334.1 625.7,332.7 624.7,331.3C623.7,329.9 622.5,327.8 621.4,325.5C620.3,323.2 618.0,318.2 618.1,317.3Z" fill="#3e3e3e" filter="url(#b1)"/>
<path d="M599.7,308.6C600.9,307.4 604.0,308.1 606.5,308.2C609.0,308.3 613.0,308.0 614.8,309.4C616.6,310.8 616.5,314.4 617.2,316.5C617.9,318.6 617.9,320.3 618.9,322.2C619.9,324.1 622.6,326.1 623.0,328.0C623.4,329.9 622.7,332.2 621.4,333.8C620.1,335.4 616.7,336.1 615.2,337.9C613.8,339.7 613.5,343.3 612.7,344.5C611.9,345.7 611.7,346.0 610.2,345.3C608.8,344.6 605.3,341.7 604.0,340.2C602.7,338.7 603.1,337.4 602.4,336.3C601.7,335.2 600.2,334.8 599.9,333.8C599.6,332.8 601.4,331.4 600.6,330.5C599.8,329.6 595.6,329.6 595.1,328.2C594.6,326.8 597.1,324.3 597.8,322.2C598.5,320.1 598.8,317.9 599.1,315.6C599.4,313.3 598.5,309.8 599.7,308.6Z" fill="#bababa" filter="url(#b05)"/>
<path d="M600.3,309.4C602.0,308.5 608.5,308.4 610.6,309.2C612.7,310.0 614.1,312.9 613.1,314.0C612.1,315.1 607.0,315.5 604.9,315.6C602.8,315.7 601.1,315.8 600.3,314.8C599.5,313.8 598.6,310.3 600.3,309.4Z" fill="#cecece" filter="url(#b1)"/>
<path d="M606.5,321.4C607.9,319.9 612.1,319.5 613.9,320.6C615.7,321.7 617.1,325.7 617.2,328.0C617.4,330.3 616.3,333.2 614.8,334.6C613.3,336.0 609.7,337.1 608.2,336.3C606.7,335.5 606.0,332.2 605.7,329.7C605.4,327.2 605.1,322.9 606.5,321.4Z" fill="#c6c6c6" filter="url(#b1)"/>
<path d="M614.8,311.5C615.1,310.9 616.9,314.6 617.6,316.5C618.4,318.4 618.8,320.8 619.3,322.6C619.8,324.4 621.1,326.6 620.9,327.2C620.7,327.8 618.9,327.6 618.1,326.4C617.3,325.2 616.5,322.3 616.0,319.8C615.5,317.3 614.5,312.1 614.8,311.5Z" fill="#858585" filter="url(#b1)"/>
<path d="M604.9,337.9C606.3,336.9 613.1,335.4 614.8,335.4C616.5,335.4 616.6,337.1 615.2,338.1C613.8,339.1 608.2,341.2 606.5,341.2C604.8,341.2 603.5,338.9 604.9,337.9Z" fill="#909090" filter="url(#b1)"/>
<path d="M601.1,316.9C601.6,316.4 603.3,316.0 604.4,316.3C605.5,316.6 607.3,317.8 607.7,318.5C608.1,319.2 607.6,320.2 606.9,320.6C606.1,321.0 604.1,320.8 603.2,320.6C602.3,320.4 601.8,319.9 601.4,319.3C601.0,318.7 600.6,317.4 601.1,316.9Z" fill="#2c2c2c" filter="url(#b05)"/>
<path d="M599.9,315.5C600.6,315.3 602.5,314.2 604.0,314.4C605.5,314.6 607.8,316.1 608.6,316.5" fill="none" stroke="#3a3a3a" stroke-width="0.9" stroke-linecap="round" filter="url(#b05)"/>
<path d="M595.4,328.2C596.0,328.4 597.9,328.7 598.7,329.2C599.5,329.7 600.0,330.9 600.3,331.3" fill="none" stroke="#666" stroke-width="0.8" stroke-linecap="round" filter="url(#b05)"/>
<path d="M601.6,335.4C602.1,335.5 603.9,335.7 604.4,335.8" fill="none" stroke="#444" stroke-width="0.9" stroke-linecap="round" filter="url(#b05)"/>
<path d="M621.8,321.4C622.0,320.3 623.7,320.2 624.2,321.0C624.8,321.8 625.3,325.3 625.1,326.4C624.9,327.5 623.5,328.4 623.0,327.6C622.5,326.8 621.6,322.5 621.8,321.4Z" fill="#9a9a9a" filter="url(#b05)"/>
<path d="M597.0,305.1C598.2,303.9 602.5,301.4 605.7,300.4C608.9,299.4 613.5,299.2 616.4,299.3C619.3,299.4 623.0,299.6 623.4,300.8C623.8,302.0 619.9,305.8 618.5,306.6C617.1,307.5 616.8,305.8 614.8,305.9C612.8,306.0 609.2,307.2 606.5,307.5C603.8,307.8 599.9,307.9 598.3,307.5C596.7,307.1 595.8,306.3 597.0,305.1Z" fill="#3a3a3a" filter="url(#b05)"/>
<path d="M602.4,302.8C602.8,302.4 607.7,301.0 610.6,300.6C613.5,300.2 618.7,300.0 619.7,300.4C620.7,300.8 618.3,302.3 616.4,302.8C614.5,303.3 610.5,303.3 608.2,303.3C605.9,303.3 602.0,303.2 602.4,302.8Z" fill="#7a7a7a" filter="url(#b1)"/>
<path d="M610.6,344.5C610.6,343.1 613.5,340.9 614.8,341.2C616.0,341.5 618.1,344.8 618.1,346.2C618.1,347.6 616.0,349.8 614.8,349.5C613.5,349.2 610.6,345.9 610.6,344.5Z" fill="#c4c4c4" filter="url(#b1)"/>
</g>
<!--R0-->
<g id="brain">
<path d="M566.4,372.0C566.4,370.2 567.9,369.8 568.4,367.2C568.9,364.6 567.9,360.0 569.1,356.5C570.3,353.0 572.7,348.9 575.6,346.3C578.5,343.7 582.9,341.6 586.8,340.6C590.7,339.6 594.9,339.2 598.8,340.1C602.7,341.0 607.1,343.3 610.0,346.2C612.9,349.1 614.9,353.8 616.0,357.3C617.1,360.8 617.2,363.7 616.6,367.2C616.0,370.7 613.9,375.1 612.3,378.3C610.7,381.5 608.0,384.0 606.8,386.1C605.6,388.2 606.9,390.0 605.0,390.8C603.1,391.6 598.8,390.1 595.4,390.8C592.0,391.5 587.0,395.1 584.7,395.1C582.4,395.1 583.4,392.0 581.5,390.8C579.6,389.6 575.2,389.4 573.4,388.1C571.6,386.9 571.5,385.0 570.7,383.3C569.9,381.6 569.3,379.8 568.6,377.9C567.9,376.0 566.4,373.8 566.4,372.0Z" fill="#e9e9e9" filter="url(#b1)"/>
<path d="M567.5,370.9C567.9,370.0 568.8,369.5 569.2,367.2C569.6,364.9 568.8,360.4 569.9,357.0C571.0,353.6 573.3,349.7 576.1,347.1C578.9,344.6 583.0,342.7 586.8,341.7C590.5,340.7 594.9,340.2 598.6,341.1C602.4,342.0 606.5,344.3 609.3,347.0C612.0,349.7 614.0,354.1 615.1,357.5C616.2,360.9 616.3,363.8 615.7,367.2C615.1,370.6 613.1,374.9 611.5,377.9C609.9,380.9 607.3,383.6 606.1,385.4C604.9,387.2 606.4,388.1 604.5,388.6C602.6,389.1 598.3,388.6 594.9,388.6C591.5,388.6 586.1,387.5 584.1,388.6C582.1,389.7 583.5,395.1 583.1,395.1C582.8,395.1 583.5,389.9 582.0,388.6C580.5,387.3 575.6,388.1 573.9,387.3C572.2,386.5 572.3,385.4 571.6,383.8C570.9,382.2 569.9,379.2 569.7,377.9C569.5,376.6 570.7,376.6 570.2,375.8C569.7,375.0 567.2,373.6 566.7,372.8C566.2,372.0 567.1,371.8 567.5,370.9Z" fill="#a0a0a0" filter="url(#b05)"/>
<path d="M595.4,377.9C597.0,376.0 602.5,376.8 605.0,376.8C607.5,376.8 610.2,376.5 610.4,377.9C610.6,379.3 607.1,383.4 606.1,385.2C605.1,386.9 606.4,387.9 604.6,388.4C602.8,388.9 596.7,390.1 595.2,388.4C593.7,386.6 593.8,379.8 595.4,377.9Z" fill="#bcbcbc" filter="url(#b1)"/>
<path d="M572.9,361.8C572.8,359.9 572.7,356.5 573.7,354.3C574.7,352.1 576.6,350.0 578.8,348.4C581.0,346.8 583.7,345.6 586.8,344.9C589.9,344.2 594.1,343.7 597.5,344.4C600.9,345.1 604.8,346.6 607.2,348.9C609.6,351.2 611.2,355.2 612.1,358.1C613.0,361.0 613.1,364.2 612.3,366.1C611.5,368.0 609.1,369.1 607.2,369.3C605.3,369.5 602.8,367.4 600.8,367.2C598.8,367.0 597.7,368.2 595.4,368.3C593.1,368.4 589.5,368.1 586.8,367.7C584.1,367.3 581.3,366.5 579.3,366.1C577.2,365.8 575.6,366.3 574.5,365.6C573.4,364.9 573.0,363.7 572.9,361.8Z" fill="#dcdcdc" filter="url(#b05)"/>
<path d="M574.5,358.6C575.1,358.2 577.8,357.4 578.2,356.5C578.7,355.6 576.7,354.1 577.2,353.2C577.8,352.3 580.2,351.1 581.5,351.1C582.8,351.1 584.2,352.9 584.7,353.2" fill="none" stroke="#8a8a8a" stroke-width="0.8" stroke-linecap="round" filter="url(#b05)"/>
<path d="M576.1,362.9C576.8,362.7 579.3,361.6 580.4,361.8C581.5,362.0 582.1,363.6 582.5,364.0" fill="none" stroke="#8a8a8a" stroke-width="0.8" stroke-linecap="round" filter="url(#b05)"/>
<path d="M586.8,346.8C587.5,347.1 589.7,349.0 591.1,348.9C592.5,348.8 594.0,346.4 595.4,346.3C596.8,346.2 599.0,348.0 599.7,348.4" fill="none" stroke="#8a8a8a" stroke-width="0.8" stroke-linecap="round" filter="url(#b05)"/>
<path d="M600.8,351.1C601.5,351.3 604.5,351.3 605.0,352.2C605.5,353.1 603.5,355.6 604.0,356.5C604.5,357.4 607.8,356.6 608.3,357.5C608.8,358.4 606.9,360.7 607.2,361.8C607.6,362.9 609.9,363.6 610.4,364.0" fill="none" stroke="#8a8a8a" stroke-width="0.8" stroke-linecap="round" filter="url(#b05)"/>
<path d="M598.6,356.5C599.1,357.0 600.7,358.8 601.8,359.7C602.9,360.6 604.6,360.7 605.0,361.8C605.4,362.9 604.2,365.4 604.0,366.1" fill="none" stroke="#8a8a8a" stroke-width="0.8" stroke-linecap="round" filter="url(#b05)"/>
<path d="M574.5,361.8C574.8,361.2 575.2,358.6 576.1,358.1C577.0,357.7 578.6,359.4 579.8,359.1C581.0,358.8 582.5,356.9 583.1,356.5" fill="none" stroke="#7a7a7a" stroke-width="0.8" stroke-linecap="round" filter="url(#b05)"/>
<path d="M580.4,350.0C580.9,349.6 582.1,348.0 583.1,347.9C584.1,347.8 585.9,348.7 586.3,349.5C586.6,350.3 585.4,352.2 585.2,352.7" fill="none" stroke="#7a7a7a" stroke-width="0.8" stroke-linecap="round" filter="url(#b05)"/>
<path d="M597.5,345.2C598.4,345.6 601.3,346.3 602.9,347.3C604.5,348.3 606.0,349.6 607.2,351.1C608.5,352.6 609.9,355.6 610.4,356.5" fill="none" stroke="#7a7a7a" stroke-width="0.8" stroke-linecap="round" filter="url(#b05)"/>
<path d="M600.8,362.9C601.5,363.3 603.6,364.9 605.0,365.6C606.4,366.3 608.6,366.9 609.3,367.2" fill="none" stroke="#7a7a7a" stroke-width="0.8" stroke-linecap="round" filter="url(#b05)"/>
<path d="M597.0,353.2C597.6,353.5 599.8,353.9 600.8,354.8C601.8,355.7 602.5,358.0 602.9,358.6" fill="none" stroke="#858585" stroke-width="0.8" stroke-linecap="round" filter="url(#b05)"/>
<path d="M573.4,363.4C573.5,362.0 572.8,357.2 573.7,354.8C574.6,352.4 576.6,350.3 578.8,348.7C581.0,347.1 583.7,345.9 586.8,345.2C589.9,344.5 594.1,344.0 597.5,344.7C600.9,345.4 604.6,347.0 607.0,349.2C609.4,351.4 611.0,355.3 611.9,358.1C612.8,360.9 612.1,364.8 612.1,366.1" fill="none" stroke="#8e8e8e" stroke-width="0.9" stroke-linecap="round" filter="url(#b05)"/>
<path d="M575.0,355.4C575.2,354.3 578.2,353.0 579.3,353.2C580.4,353.4 581.7,355.4 581.5,356.5C581.3,357.6 579.3,359.9 578.2,359.7C577.1,359.5 574.8,356.5 575.0,355.4Z" fill="#f4f4f4" filter="url(#b05)"/>
<path d="M602.9,354.3C603.4,353.7 606.3,354.5 607.2,355.4C608.1,356.3 608.8,359.1 608.3,359.7C607.8,360.3 605.4,360.0 604.5,359.1C603.6,358.2 602.4,354.9 602.9,354.3Z" fill="#f4f4f4" filter="url(#b05)"/>
<path d="M595.4,346.8C596.0,346.2 599.8,346.4 600.8,347.3C601.8,348.2 601.9,351.6 601.3,352.2C600.7,352.8 598.0,352.0 597.0,351.1C596.0,350.2 594.8,347.4 595.4,346.8Z" fill="#f0f0f0" filter="url(#b05)"/>
<path d="M584.1,358.1C584.5,356.1 586.2,354.9 587.9,354.3C589.6,353.8 592.7,353.9 594.3,354.8C595.9,355.7 597.0,357.8 597.5,359.7C598.0,361.6 598.1,364.7 597.0,366.1C595.9,367.5 593.0,368.3 591.1,368.3C589.2,368.3 586.9,367.8 585.7,366.1C584.5,364.4 583.7,360.1 584.1,358.1Z" fill="#3c3c3c" filter="url(#b1)"/>
<path d="M586.8,351.1C587.4,350.0 590.6,347.9 592.2,347.9C593.8,347.9 596.1,350.0 596.5,351.1C596.9,352.2 595.6,354.2 594.3,354.8C592.9,355.4 589.6,355.4 588.4,354.8C587.1,354.2 586.2,352.2 586.8,351.1Z" fill="#6e6e6e" filter="url(#b1)"/>
<path d="M594.9,368.3C595.6,366.9 597.1,365.3 598.6,365.0C600.1,364.7 602.8,365.4 604.0,366.6C605.2,367.8 605.9,370.2 605.6,372.0C605.3,373.8 603.8,376.3 602.4,377.4C601.0,378.5 598.3,379.0 597.0,378.4C595.7,377.8 594.9,375.3 594.5,373.6C594.1,371.9 594.2,369.7 594.9,368.3Z" fill="#161616" filter="url(#b05)"/>
<path d="M592.7,369.3C592.9,368.3 594.5,367.9 594.9,368.8C595.3,369.7 595.1,373.7 594.9,374.7C594.7,375.7 593.9,375.8 593.5,374.9C593.1,374.0 592.5,370.3 592.7,369.3Z" fill="#e8e8e8" filter="url(#b05)"/>
<path d="M594.1,374.7C594.1,376.9 594.1,385.9 594.1,388.1" fill="none" stroke="#6e6e6e" stroke-width="0.7" stroke-linecap="round" filter="url(#b05)"/>
<path d="M570.7,370.4C572.3,368.2 577.9,369.3 581.5,369.3C585.1,369.3 590.2,367.5 592.2,370.4C594.2,373.3 594.7,383.6 593.3,386.5C591.9,389.4 586.6,387.6 583.6,387.6C580.6,387.6 577.0,387.4 575.0,386.5C573.0,385.6 572.5,384.9 571.8,382.2C571.1,379.5 569.1,372.5 570.7,370.4Z" fill="#b0b0b0" filter="url(#b1)"/>
<path d="M567.5,370.9C567.4,371.2 566.3,372.0 566.7,372.8C567.1,373.6 569.4,374.6 569.9,375.5C570.4,376.4 569.4,376.5 569.7,377.9C570.0,379.3 570.9,382.2 571.6,383.8C572.4,385.4 572.5,386.5 574.2,387.3C575.9,388.1 580.5,387.3 582.0,388.6C583.5,389.9 582.8,394.0 583.0,395.1" fill="none" stroke="#6a6a6a" stroke-width="0.7" stroke-linecap="round" filter="url(#b05)"/>
<path d="M569.2,367.2C569.3,365.5 568.8,360.4 569.9,357.0C571.0,353.6 573.3,349.7 576.1,347.1C578.9,344.6 583.0,342.7 586.8,341.7C590.5,340.7 594.9,340.2 598.6,341.1C602.4,342.0 606.5,344.3 609.3,347.0C612.0,349.7 614.0,354.1 615.1,357.5C616.2,360.9 616.3,363.8 615.7,367.2C615.1,370.6 613.1,374.9 611.5,377.9C609.9,380.9 607.0,384.1 606.1,385.4" fill="none" stroke="#777" stroke-width="1.0" stroke-linecap="round" filter="url(#b05)"/>
</g>
<g id="mouse">
<path d="M601.3,408.5C601.1,407.1 603.3,405.6 604.5,404.0C605.7,402.4 607.1,399.9 608.3,398.7C609.5,397.5 610.5,396.8 611.5,396.7C612.5,396.6 613.0,398.4 614.0,398.3C615.0,398.2 616.0,396.3 617.2,396.2C618.4,396.1 620.1,396.9 621.0,397.7C621.9,398.5 621.0,400.2 622.3,400.8C623.6,401.4 626.0,399.9 628.6,401.2C631.2,402.5 635.5,405.8 638.1,408.5C640.7,411.2 643.4,414.8 644.2,417.7C645.1,420.6 644.6,424.1 643.2,425.8C641.8,427.5 638.6,428.0 635.8,428.1C632.9,428.2 628.4,426.7 626.1,426.2C623.9,425.7 623.6,425.8 622.3,424.9C621.0,424.0 619.9,422.1 618.5,421.1C617.1,420.2 615.4,419.5 614.0,419.2C612.6,418.9 610.5,419.9 610.0,419.5C609.5,419.1 611.5,417.9 610.8,416.7C610.1,415.5 607.4,413.7 605.8,412.3C604.2,410.9 601.5,409.9 601.3,408.5Z" fill="#e6e6e6" filter="url(#b1)"/>
<path d="M602.0,408.5C601.8,407.2 604.0,405.6 605.1,404.0C606.2,402.4 607.6,400.3 608.7,399.2C609.8,398.1 610.6,397.4 611.5,397.4C612.4,397.4 613.0,399.3 614.0,399.2C615.0,399.1 616.1,397.1 617.2,396.9C618.3,396.7 619.7,397.4 620.4,398.2C621.1,399.0 620.3,400.9 621.6,401.5C622.9,402.1 625.5,400.7 628.2,402.0C630.9,403.3 635.1,406.4 637.6,409.1C640.1,411.8 642.6,415.3 643.4,418.0C644.2,420.7 643.7,423.8 642.4,425.3C641.1,426.9 638.3,427.2 635.6,427.3C632.9,427.4 628.5,426.2 626.4,425.6C624.3,425.1 624.2,424.8 622.9,424.0C621.6,423.2 620.3,421.7 618.8,420.7C617.3,419.7 615.4,418.5 614.0,418.2C612.6,417.9 610.6,419.0 610.2,418.7C609.8,418.4 612.2,417.2 611.5,416.1C610.8,415.0 607.8,413.2 606.2,411.9C604.6,410.6 602.2,409.8 602.0,408.5Z" fill="#747474" filter="url(#b05)"/>
<path d="M615.3,413.5C616.2,412.6 618.6,411.8 621.6,412.3C624.6,412.8 629.6,415.1 633.0,416.7C636.4,418.3 640.5,420.4 641.9,421.8C643.3,423.2 642.6,424.4 641.6,425.3C640.6,426.2 638.1,427.1 635.6,427.1C633.1,427.1 629.4,426.3 626.7,425.3C624.1,424.3 621.5,422.3 619.7,421.1C617.9,419.9 616.6,419.3 615.9,418.0C615.2,416.7 614.3,414.4 615.3,413.5Z" fill="#363636" filter="url(#b1)"/>
<path d="M621.6,402.1C622.0,401.2 626.6,401.3 629.2,402.5C631.9,403.7 636.6,407.5 637.5,409.1C638.4,410.7 636.1,412.5 634.3,412.3C632.5,412.1 628.8,409.5 626.7,407.8C624.6,406.1 621.2,403.0 621.6,402.1Z" fill="#9c9c9c" filter="url(#b1)"/>
<path d="M604.5,405.3C605.2,404.1 607.2,401.7 608.3,401.5C609.3,401.3 610.9,402.8 610.8,404.0C610.7,405.2 608.9,407.8 607.7,408.5C606.6,409.2 604.4,409.0 603.9,408.5C603.4,408.0 603.8,406.5 604.5,405.3Z" fill="#8a8a8a" filter="url(#b1)"/>
<path d="M615.9,397.0C616.3,396.3 618.2,396.1 619.1,396.4C620.0,396.7 620.9,398.0 621.0,398.9C621.1,399.8 620.5,401.2 619.7,401.5C619.0,401.8 617.1,401.6 616.5,400.8C615.9,400.1 615.5,397.7 615.9,397.0Z" fill="#1e1e1e" filter="url(#b05)"/>
<path d="M609.6,397.7C609.8,397.1 611.5,396.7 612.1,397.0C612.7,397.3 613.2,399.0 613.0,399.6C612.8,400.2 611.4,401.1 610.8,400.8C610.2,400.5 609.4,398.3 609.6,397.7Z" fill="#2a2a2a" filter="url(#b05)"/>
<path d="M610.0,404.0C610.2,403.7 611.2,403.6 611.5,403.8C611.8,404.0 611.9,405.0 611.7,405.3C611.5,405.6 610.5,405.7 610.2,405.5C609.9,405.3 609.8,404.3 610.0,404.0Z" fill="#111" filter="url(#b05)"/>
<path d="M622.3,425.6C622.8,425.9 624.3,427.3 625.4,427.5C626.5,427.7 628.1,426.9 628.6,426.8" fill="none" stroke="#444" stroke-width="0.9" stroke-linecap="round" filter="url(#b05)"/>
<path d="M610.2,418.2C610.7,418.4 612.5,419.5 613.4,419.5C614.2,419.5 615.0,418.4 615.3,418.2" fill="none" stroke="#555" stroke-width="0.9" stroke-linecap="round" filter="url(#b05)"/>
<path d="M640.9,426.6C642.1,427.2 644.9,429.4 648.2,430.0C651.5,430.6 657.3,429.5 660.9,429.9C664.5,430.3 667.4,431.1 669.8,432.2C672.2,433.3 674.2,435.9 675.1,436.7" fill="none" stroke="#2e2e2e" stroke-width="1.1" stroke-linecap="round" filter="url(#b05)"/>
</g>
<g id="dfly">
<path d="M601.2,453.8C601.7,454.5 609.2,450.8 613.6,448.2C618.0,445.6 624.5,441.1 627.5,438.2C630.5,435.3 632.2,431.9 631.5,431.0C630.8,430.1 627.0,430.8 623.5,432.9C620.0,435.0 614.1,440.4 610.4,443.9C606.7,447.4 600.7,453.1 601.2,453.8Z" fill="#8a8a8a" fill-opacity="0.55" filter="url(#b05)"/>
<path d="M601.2,453.8C604.1,452.4 613.4,448.9 618.4,445.1C623.4,441.3 629.3,433.4 631.5,431.0" fill="none" stroke="#4a4a4a" stroke-width="0.6" stroke-opacity="0.9" stroke-linecap="round" filter="url(#b05)"/>
<path d="M601.2,453.8C603.5,451.5 609.7,443.9 614.7,440.1C619.8,436.3 628.7,432.5 631.5,431.0" fill="none" stroke="#666" stroke-width="0.45" stroke-opacity="0.8" stroke-linecap="round" filter="url(#b05)"/>
<path d="M604.5,457.1C604.7,458.2 613.5,458.6 618.8,458.4C624.1,458.2 632.4,457.1 636.5,455.8C640.6,454.5 643.8,451.8 643.6,450.4C643.4,449.0 639.4,447.4 635.1,447.7C630.8,447.9 622.8,450.3 617.7,451.9C612.6,453.5 604.3,456.0 604.5,457.1Z" fill="#9c9c9c" fill-opacity="0.5" filter="url(#b05)"/>
<path d="M604.5,457.1C607.9,457.2 618.2,459.0 624.7,457.9C631.2,456.8 640.5,451.6 643.6,450.4" fill="none" stroke="#4a4a4a" stroke-width="0.6" stroke-opacity="0.9" stroke-linecap="round" filter="url(#b05)"/>
<path d="M604.5,457.1C607.7,456.0 617.0,451.4 623.5,450.3C630.0,449.2 640.2,450.4 643.6,450.4" fill="none" stroke="#666" stroke-width="0.45" stroke-opacity="0.8" stroke-linecap="round" filter="url(#b05)"/>
<path d="M603.2,459.1C603.1,459.8 608.8,461.7 612.3,462.5C615.8,463.3 621.4,464.0 624.3,463.9C627.2,463.8 629.8,462.7 629.9,461.8C630.0,460.9 627.7,459.2 624.8,458.6C621.9,458.0 616.3,458.1 612.7,458.2C609.1,458.3 603.3,458.4 603.2,459.1Z" fill="#8a8a8a" fill-opacity="0.35" filter="url(#b05)"/>
<path d="M603.2,459.1C605.4,459.8 611.8,462.7 616.3,463.1C620.8,463.6 627.6,462.0 629.9,461.8" fill="none" stroke="#4a4a4a" stroke-width="0.6" stroke-opacity="0.9" stroke-linecap="round" filter="url(#b05)"/>
<path d="M603.2,459.1C605.5,459.0 612.3,457.8 616.8,458.2C621.2,458.6 627.7,461.2 629.9,461.8" fill="none" stroke="#666" stroke-width="0.45" stroke-opacity="0.8" stroke-linecap="round" filter="url(#b05)"/>
<path d="M595.1,458.7C594.9,457.9 586.7,458.6 581.7,459.4C576.7,460.2 569.1,461.9 565.3,463.4C561.5,464.8 558.5,467.2 558.7,468.1C559.0,469.1 562.8,469.8 566.8,469.1C570.8,468.4 578.2,465.7 582.9,464.0C587.6,462.3 595.3,459.5 595.1,458.7Z" fill="#909090" fill-opacity="0.55" filter="url(#b05)"/>
<path d="M595.1,458.7C592.0,459.0 582.3,458.9 576.2,460.5C570.1,462.1 561.6,466.8 558.7,468.1" fill="none" stroke="#4a4a4a" stroke-width="0.6" stroke-opacity="0.9" stroke-linecap="round" filter="url(#b05)"/>
<path d="M595.1,458.7C592.2,459.9 583.7,464.2 577.6,465.8C571.5,467.4 561.9,467.7 558.7,468.1" fill="none" stroke="#666" stroke-width="0.45" stroke-opacity="0.8" stroke-linecap="round" filter="url(#b05)"/>
<path d="M598.1,462.7C597.4,461.9 590.1,465.6 585.9,468.3C581.7,471.0 575.7,475.7 573.1,478.8C570.5,481.9 569.5,485.7 570.4,486.8C571.3,487.9 575.4,487.4 578.7,485.2C582.0,483.0 587.2,477.1 590.4,473.4C593.6,469.6 598.9,463.5 598.1,462.7Z" fill="#8c8c8c" fill-opacity="0.55" filter="url(#b05)"/>
<path d="M598.1,462.7C595.3,464.2 586.0,467.5 581.4,471.5C576.8,475.5 572.2,484.2 570.4,486.8" fill="none" stroke="#4a4a4a" stroke-width="0.6" stroke-opacity="0.9" stroke-linecap="round" filter="url(#b05)"/>
<path d="M598.1,462.7C596.2,465.2 591.2,473.5 586.6,477.5C582.0,481.5 573.1,485.2 570.4,486.8" fill="none" stroke="#666" stroke-width="0.45" stroke-opacity="0.8" stroke-linecap="round" filter="url(#b05)"/>
<path d="M601.2,460.5C602.4,462.2 606.0,467.3 608.5,470.5C611.0,473.7 613.9,477.3 616.5,479.9C619.1,482.5 622.7,484.9 623.9,485.9" fill="none" stroke="#222" stroke-width="2.3" stroke-linecap="round" filter="url(#b05)"/>
<path d="M595.1,456.4C596.2,457.0 600.7,459.5 601.8,460.1" fill="none" stroke="#1a1a1a" stroke-width="3.2" stroke-linecap="round" filter="url(#b05)"/>
<path d="M588.4,453.8C588.7,452.7 590.0,450.8 591.1,450.4C592.2,449.9 594.1,450.3 594.9,451.1C595.7,451.9 596.1,454.0 595.8,455.1C595.5,456.2 594.1,457.5 593.1,457.8C592.1,458.1 590.3,457.8 589.5,457.1C588.7,456.4 588.1,454.9 588.4,453.8Z" fill="#1a1a1a" filter="url(#b05)"/>
<path d="M594.5,455.1C595.1,453.9 597.2,452.3 598.5,452.4C599.8,452.5 602.0,454.4 602.5,455.8C603.0,457.2 602.6,459.5 601.8,460.5C601.0,461.5 598.9,462.0 597.8,461.8C596.6,461.6 595.4,460.6 594.9,459.5C594.4,458.4 593.9,456.3 594.5,455.1Z" fill="#222" filter="url(#b05)"/>
</g>
<!--R1-->
</svg>
</body></html>
